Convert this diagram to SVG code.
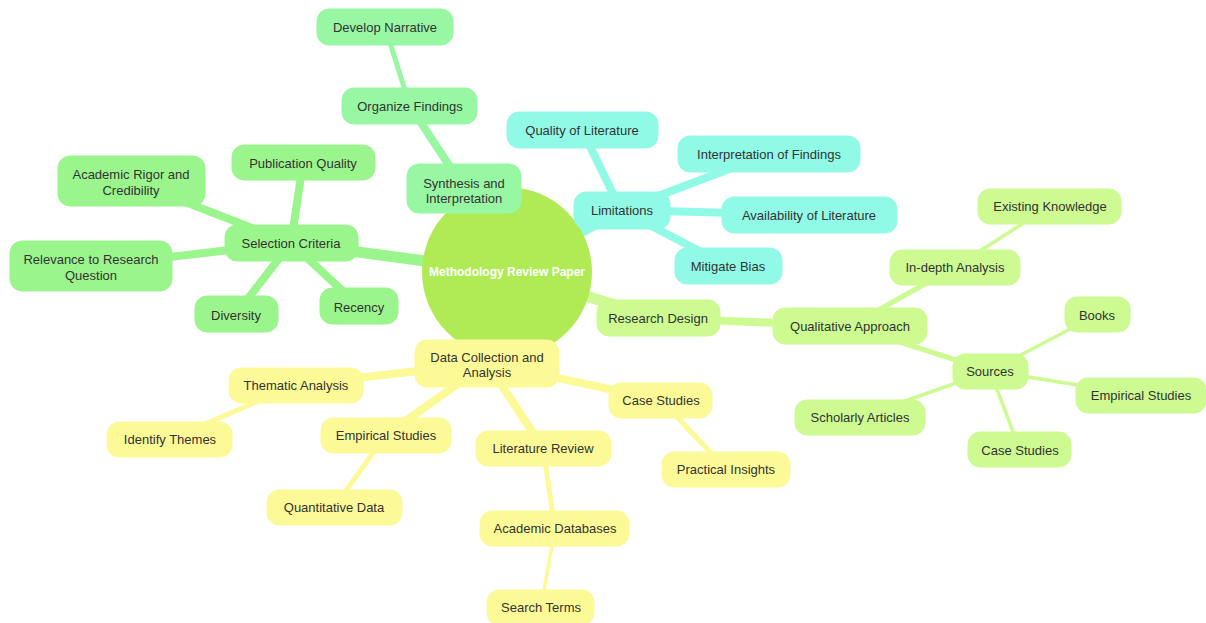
<svg xmlns="http://www.w3.org/2000/svg" width="1206" height="623" viewBox="0 0 1206 623">
  <style>
    text { font-family: "Liberation Sans", Arial, sans-serif; font-size: 13px; fill: #333; text-anchor: middle; dominant-baseline: central; }
    .root-label { font-weight: bold; font-size: 12px; fill: #fff; }
    .sel { fill: #9af58c; stroke: #9af58c; }
    .syn { fill: #97f7a3; stroke: #97f7a3; }
    .lim { fill: #91fae6; stroke: #91fae6; }
    .res { fill: #cdfa91; stroke: #cdfa91; }
    .dat { fill: #fcfa96; stroke: #fcfa96; }
    rect { stroke-width: 1; }
    #connectors line { stroke-linecap: round; fill: none; }
    .d0 { stroke-width: 11; }
    .d1 { stroke-width: 8; }
    .d2 { stroke-width: 5; }
    .d3 { stroke-width: 3.5; }
    .e-sel { stroke: #9af58c; }
    .e-syn { stroke: #97f7a3; }
    .e-lim { stroke: #91fae6; }
    .e-res { stroke: #cdfa91; }
    .e-dat { stroke: #fcfa96; }
  </style>
  <rect width="1206" height="623" fill="#fff"/>

  <g id="connectors">
    <!-- root to sections -->
    <line class="d0 e-sel" x1="507" y1="272" x2="291" y2="243"/>
    <line class="d0 e-syn" x1="507" y1="272" x2="464" y2="188"/>
    <line class="d0 e-lim" x1="507" y1="272" x2="621" y2="210"/>
    <line class="d0 e-res" x1="507" y1="272" x2="658" y2="318"/>
    <line class="d0 e-dat" x1="507" y1="272" x2="487" y2="363"/>
    <!-- selection criteria -->
    <line class="d1 e-sel" x1="291" y1="243" x2="303" y2="163"/>
    <line class="d1 e-sel" x1="291" y1="243" x2="131" y2="181"/>
    <line class="d1 e-sel" x1="291" y1="243" x2="91" y2="266"/>
    <line class="d1 e-sel" x1="291" y1="243" x2="236" y2="314"/>
    <line class="d1 e-sel" x1="291" y1="243" x2="359" y2="306"/>
    <!-- synthesis -->
    <line class="d1 e-syn" x1="464" y1="188" x2="410" y2="106"/>
    <line class="d2 e-syn" x1="410" y1="106" x2="385" y2="27"/>
    <!-- limitations -->
    <line class="d1 e-lim" x1="621" y1="210" x2="582" y2="130"/>
    <line class="d1 e-lim" x1="621" y1="210" x2="769" y2="154"/>
    <line class="d1 e-lim" x1="621" y1="210" x2="809" y2="215"/>
    <line class="d1 e-lim" x1="621" y1="210" x2="728" y2="266"/>
    <!-- research design -->
    <line class="d1 e-res" x1="658" y1="318" x2="850" y2="326"/>
    <line class="d2 e-res" x1="850" y1="326" x2="955" y2="267"/>
    <line class="d3 e-res" x1="955" y1="267" x2="1050" y2="206"/>
    <line class="d2 e-res" x1="850" y1="326" x2="990" y2="371"/>
    <line class="d3 e-res" x1="990" y1="371" x2="1097" y2="315"/>
    <line class="d3 e-res" x1="990" y1="371" x2="1141" y2="395"/>
    <line class="d3 e-res" x1="990" y1="371" x2="1020" y2="450"/>
    <line class="d3 e-res" x1="990" y1="371" x2="860" y2="417"/>
    <!-- data collection -->
    <line class="d1 e-dat" x1="487" y1="363" x2="296" y2="385"/>
    <line class="d2 e-dat" x1="296" y1="385" x2="170" y2="439"/>
    <line class="d1 e-dat" x1="487" y1="363" x2="386" y2="435"/>
    <line class="d2 e-dat" x1="386" y1="435" x2="334" y2="507"/>
    <line class="d1 e-dat" x1="487" y1="363" x2="543" y2="448"/>
    <line class="d2 e-dat" x1="543" y1="448" x2="555" y2="528"/>
    <line class="d3 e-dat" x1="555" y1="528" x2="541" y2="607"/>
    <line class="d1 e-dat" x1="487" y1="363" x2="661" y2="400"/>
    <line class="d2 e-dat" x1="661" y1="400" x2="726" y2="469"/>
  </g>

  <g id="root">
    <circle cx="507" cy="272" r="85" fill="#b0eb55"/>
    <text class="root-label" x="507" y="272">Methodology Review Paper</text>
  </g>

  <!-- Selection Criteria branch -->
  <g id="selection-criteria"><rect class="sel" x="225" y="225" width="133" height="36" rx="12"/><text x="291" y="243">Selection Criteria</text></g>
  <g id="publication-quality"><rect class="sel" x="232" y="145" width="143" height="35" rx="12"/><text x="303" y="163">Publication Quality</text></g>
  <g id="academic-rigor"><rect class="sel" x="58" y="156" width="147" height="50" rx="12"/><text x="131" y="174">Academic Rigor and</text><text x="131" y="190">Credibility</text></g>
  <g id="relevance"><rect class="sel" x="10" y="241" width="162" height="50" rx="12"/><text x="91" y="259">Relevance to Research</text><text x="91" y="275">Question</text></g>
  <g id="diversity"><rect class="sel" x="195" y="296" width="83" height="36" rx="12"/><text x="236" y="315">Diversity</text></g>
  <g id="recency"><rect class="sel" x="320" y="288" width="78" height="36" rx="12"/><text x="359" y="307">Recency</text></g>

  <!-- Synthesis branch -->
  <g id="synthesis"><rect class="syn" x="407" y="164" width="114" height="49" rx="12"/><text x="464" y="183">Synthesis and</text><text x="464" y="198">Interpretation</text></g>
  <g id="organize-findings"><rect class="syn" x="342" y="88" width="135" height="36" rx="12"/><text x="410" y="106">Organize Findings</text></g>
  <g id="develop-narrative"><rect class="syn" x="317" y="9" width="136" height="36" rx="12"/><text x="385" y="27">Develop Narrative</text></g>

  <!-- Limitations branch -->
  <g id="limitations"><rect class="lim" x="574" y="192" width="96" height="37" rx="12"/><text x="622" y="210">Limitations</text></g>
  <g id="quality-of-literature"><rect class="lim" x="507" y="112" width="151" height="36" rx="12"/><text x="582" y="130">Quality of Literature</text></g>
  <g id="interpretation-of-findings"><rect class="lim" x="678" y="136" width="182" height="36" rx="12"/><text x="769" y="154">Interpretation of Findings</text></g>
  <g id="availability-of-literature"><rect class="lim" x="722" y="197" width="175" height="36" rx="12"/><text x="809" y="215">Availability of Literature</text></g>
  <g id="mitigate-bias"><rect class="lim" x="675" y="248" width="107" height="36" rx="12"/><text x="728" y="266">Mitigate Bias</text></g>

  <!-- Research Design branch -->
  <g id="research-design"><rect class="res" x="597" y="300" width="123" height="36" rx="12"/><text x="658" y="318">Research Design</text></g>
  <g id="qualitative-approach"><rect class="res" x="773" y="308" width="154" height="36" rx="12"/><text x="850" y="326">Qualitative Approach</text></g>
  <g id="in-depth-analysis"><rect class="res" x="890" y="250" width="130" height="35" rx="12"/><text x="955" y="267">In-depth Analysis</text></g>
  <g id="existing-knowledge"><rect class="res" x="978" y="189" width="143" height="35" rx="12"/><text x="1050" y="206">Existing Knowledge</text></g>
  <g id="sources"><rect class="res" x="953" y="354" width="75" height="35" rx="12"/><text x="990" y="371">Sources</text></g>
  <g id="books"><rect class="res" x="1065" y="297" width="65" height="35" rx="12"/><text x="1097" y="315">Books</text></g>
  <g id="empirical-studies-sources"><rect class="res" x="1076" y="378" width="130" height="35" rx="12"/><text x="1141" y="395">Empirical Studies</text></g>
  <g id="case-studies-sources"><rect class="res" x="968" y="432" width="103" height="35" rx="12"/><text x="1020" y="450">Case Studies</text></g>
  <g id="scholarly-articles"><rect class="res" x="795" y="400" width="130" height="35" rx="12"/><text x="860" y="417">Scholarly Articles</text></g>

  <!-- Data Collection branch -->
  <g id="data-collection"><rect class="dat" x="415" y="340" width="144" height="47" rx="12"/><text x="487" y="357">Data Collection and</text><text x="487" y="372">Analysis</text></g>
  <g id="thematic-analysis"><rect class="dat" x="229" y="368" width="134" height="35" rx="12"/><text x="296" y="385">Thematic Analysis</text></g>
  <g id="identify-themes"><rect class="dat" x="107" y="422" width="125" height="35" rx="12"/><text x="170" y="439">Identify Themes</text></g>
  <g id="empirical-studies-data"><rect class="dat" x="321" y="418" width="130" height="35" rx="12"/><text x="386" y="435">Empirical Studies</text></g>
  <g id="quantitative-data"><rect class="dat" x="267" y="490" width="135" height="35" rx="12"/><text x="334" y="507">Quantitative Data</text></g>
  <g id="literature-review"><rect class="dat" x="476" y="431" width="135" height="35" rx="12"/><text x="543" y="448">Literature Review</text></g>
  <g id="academic-databases"><rect class="dat" x="480" y="511" width="149" height="35" rx="12"/><text x="555" y="528">Academic Databases</text></g>
  <g id="search-terms"><rect class="dat" x="487" y="590" width="107" height="35" rx="12"/><text x="541" y="607">Search Terms</text></g>
  <g id="case-studies-data"><rect class="dat" x="609" y="383" width="103" height="35" rx="12"/><text x="661" y="400">Case Studies</text></g>
  <g id="practical-insights"><rect class="dat" x="662" y="452" width="128" height="35" rx="12"/><text x="726" y="469">Practical Insights</text></g>
</svg>
